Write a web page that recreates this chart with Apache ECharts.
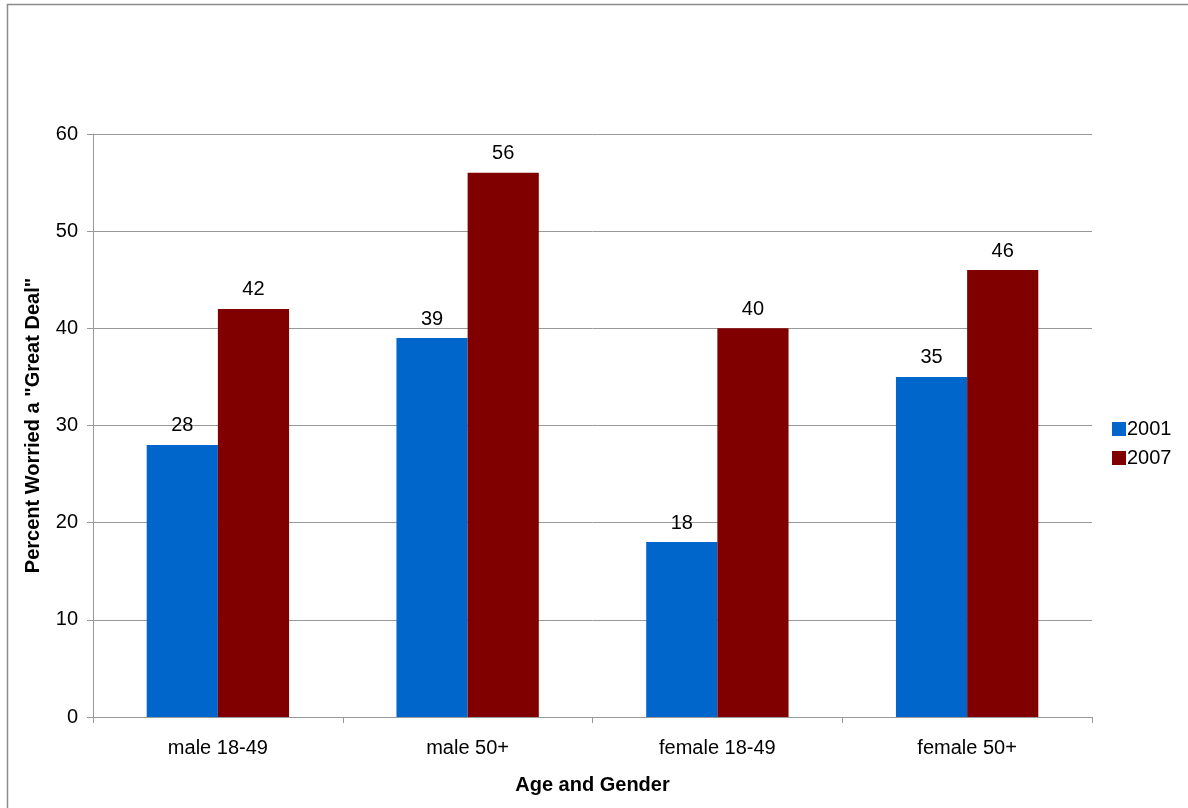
<!DOCTYPE html>
<html>
<head>
<meta charset="utf-8">
<script src="https://cdn.jsdelivr.net/npm/echarts@6/dist/echarts.min.js"></script>
<style>
  html, body { margin: 0; padding: 0; background: #fff; }
  #chart { width: 1188px; height: 808px; }
</style>
</head>
<body>
<div id="chart"></div>
<script>
// Share of people worried "a great deal", by age and gender group
const categories = ['male 18-49', 'male 50+', 'female 18-49', 'female 50+'];
const values2001 = [28, 39, 18, 35];
const values2007 = [42, 56, 40, 46];
const seriesNames = ['2001', '2007'];

const font = 'Liberation Sans, Arial, sans-serif';
const chart = echarts.init(document.getElementById('chart'));

const barLabel = {
  show: true,
  position: 'top',
  distance: 9,
  color: '#000',
  fontSize: 20,
  fontFamily: font
};

chart.setOption({
  animation: false,
  backgroundColor: '#fff',
  textStyle: { fontFamily: font },
  graphic: [{
    type: 'rect',
    shape: { x: 7.5, y: 4.5, width: 1200, height: 900 },
    style: { fill: 'none', stroke: '#8c8c8c', lineWidth: 1.5 },
    silent: true,
    z: -10
  }],
  grid: { left: 93, top: 134, width: 999, height: 583, containLabel: false },
  legend: {
    orient: 'vertical',
    left: 1107,
    top: 414,
    itemWidth: 14,
    itemHeight: 14,
    itemGap: 9,
    icon: 'rect',
    textStyle: { fontSize: 20, color: '#000', fontFamily: font, padding: [0, 0, 0, -4] },
    data: seriesNames
  },
  xAxis: {
    type: 'category',
    data: categories,
    name: 'Age and Gender',
    nameLocation: 'middle',
    nameGap: 58,
    nameTextStyle: { fontSize: 20, fontWeight: 'bold', color: '#000', fontFamily: font },
    axisLine: { lineStyle: { color: '#999', width: 1 } },
    axisTick: { show: true, length: 6, lineStyle: { color: '#999' }, alignWithLabel: false },
    axisLabel: { fontSize: 20, color: '#000', margin: 21, fontFamily: font },
    splitLine: { show: false }
  },
  yAxis: {
    type: 'value',
    min: 0,
    max: 60,
    interval: 10,
    name: 'Percent Worried a "Great Deal"',
    nameLocation: 'middle',
    nameGap: 50,
    nameRotate: 90,
    nameTextStyle: { fontSize: 20, fontWeight: 'bold', color: '#000', fontFamily: font },
    axisLine: { show: true, lineStyle: { color: '#999', width: 1 } },
    axisTick: { show: true, length: 6, lineStyle: { color: '#999' } },
    axisLabel: { fontSize: 20, color: '#000', margin: 15, fontFamily: font },
    splitLine: { show: true, lineStyle: { color: '#999', width: 1 } }
  },
  series: [
    {
      name: seriesNames[0],
      type: 'bar',
      data: values2001,
      barGap: '0%',
      barCategoryGap: '43%',
      itemStyle: { color: '#0066cc' },
      label: barLabel
    },
    {
      name: seriesNames[1],
      type: 'bar',
      data: values2007,
      barGap: '0%',
      barCategoryGap: '43%',
      itemStyle: { color: '#800000' },
      label: barLabel
    }
  ]
});
</script>
</body>
</html>
